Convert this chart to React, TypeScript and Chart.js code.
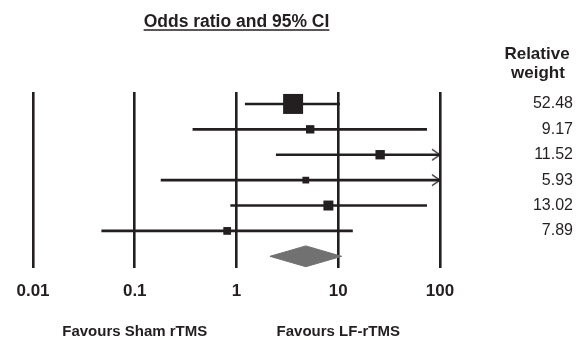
import React, { useEffect, useRef } from "react";
import { Chart, registerables } from "chart.js";

Chart.register(...registerables);

// ---- data ----
const studyRows = [0, 1, 2, 3, 4, 5];
const oddsRatios = [3.6, 5.3, 25.8, 4.8, 8.0, 0.81];
const ciLower = [1.21, 0.37, 2.44, 0.18, 0.87, 0.047];
const ciUpper = [10.4, 74.5, 100, 100, 74.5, 13.9];
const ciTruncated = [false, false, true, true, false, false];
const relativeWeights = [52.48, 9.17, 11.52, 5.93, 13.02, 7.89];
const pooledRow = 6;
const pooledOR = [4.8];
const pooledLower = [2.13];
const pooledUpper = [10.8];
const xTickValues = [0.01, 0.1, 1, 10, 100];
const favourTexts = ["Favours Sham rTMS", "Favours LF-rTMS"];
const favourAt = [0.1, 10];
const titleText = "Odds ratio and 95% CI";
const weightHeader = ["Relative", "weight"];

const INK = "#231f20";
const GREY = "#717171";
const FONT = "'Liberation Sans', Arial, Helvetica, sans-serif";

function makeChevron(): HTMLCanvasElement {
  const c = document.createElement("canvas");
  c.width = 24;
  c.height = 14;
  const g = c.getContext("2d")!;
  g.strokeStyle = INK;
  g.lineWidth = 1.3;
  g.beginPath();
  g.moveTo(4, 1.5);
  g.lineTo(12, 7);
  g.lineTo(4, 12.5);
  g.stroke();
  return c;
}

const textPlugin = {
  id: "forestText",
  afterDraw(chart: any) {
    const { ctx, chartArea, scales } = chart;
    const x = scales.x;
    const y = scales.y;
    ctx.save();
    ctx.fillStyle = INK;
    ctx.strokeStyle = INK;

    // title with underline
    ctx.font = `bold 17.5px ${FONT}`;
    ctx.textAlign = "center";
    ctx.textBaseline = "alphabetic";
    const cx = (chartArea.left + chartArea.right) / 2;
    ctx.fillText(titleText, cx, 27);
    const tw = ctx.measureText(titleText).width;
    ctx.lineWidth = 1.5;
    ctx.beginPath();
    ctx.moveTo(cx - tw / 2, 30);
    ctx.lineTo(cx + tw / 2, 30);
    ctx.stroke();

    // weight header
    ctx.font = `bold 17px ${FONT}`;
    ctx.fillText(weightHeader[0], 537, 59);
    ctx.fillText(weightHeader[1], 538, 78);

    // weights
    ctx.font = `16px ${FONT}`;
    ctx.textAlign = "right";
    ctx.textBaseline = "middle";
    relativeWeights.forEach((w, i) => {
      ctx.fillText(w.toFixed(2), 573, y.getPixelForValue(studyRows[i]));
    });

    // favours labels
    ctx.font = `bold 15px ${FONT}`;
    ctx.textAlign = "center";
    ctx.textBaseline = "alphabetic";
    favourTexts.forEach((t, i) => {
      ctx.fillText(t, x.getPixelForValue(favourAt[i]), 336);
    });
    ctx.restore();
  },
};

export default function App() {
  const ref = useRef<HTMLCanvasElement>(null);

  useEffect(() => {
    if (!ref.current) return;
    const chevron = makeChevron();
    const half = 0.41;

    const ciSets = studyRows.map((r, i) => ({
      type: "scatter",
      label: "ci" + i,
      data: [
        { x: ciLower[i], y: r },
        { x: ciUpper[i], y: r },
      ],
      showLine: true,
      borderColor: INK,
      borderWidth: 2.6,
      pointRadius: 0,
      order: 3,
    }));

    const chart = new Chart(ref.current, {
      type: "scatter",
      data: {
        datasets: [
          {
            label: "OR",
            data: studyRows.map((r, i) => ({ x: oddsRatios[i], y: r })),
            pointStyle: "rect",
            pointRadius: relativeWeights.map((w) => (2.76 * Math.sqrt(w)) / Math.SQRT2),
            backgroundColor: INK,
            borderColor: INK,
            borderWidth: 0,
            order: 1,
          },
          {
            label: "arrows",
            data: studyRows
              .filter((_, i) => ciTruncated[i])
              .map((r) => ({ x: ciUpper[r], y: r })),
            pointStyle: chevron,
            pointRadius: 7,
            order: 2,
          },
          ...ciSets,
          {
            label: "pooled",
            data: [
              { x: pooledLower[0], y: pooledRow },
              { x: pooledOR[0], y: pooledRow - half },
              { x: pooledUpper[0], y: pooledRow },
              { x: pooledOR[0], y: pooledRow + half },
              { x: pooledLower[0], y: pooledRow },
            ],
            showLine: true,
            fill: "shape",
            backgroundColor: GREY,
            borderColor: GREY,
            borderWidth: 1,
            pointRadius: 0,
            tension: 0,
            order: 4,
          },
        ] as any,
      },
      options: {
        animation: false,
        responsive: false,
        devicePixelRatio: 1,
        events: [],
        layout: { padding: { left: 33, right: 139, top: 92, bottom: 23.6 } },
        plugins: { legend: { display: false }, tooltip: { enabled: false }, title: { display: false } },
        scales: {
          x: {
            type: "logarithmic",
            min: 0.01,
            max: 100,
            z: 1,
            afterBuildTicks: (scale: any) => {
              scale.ticks = xTickValues.map((v) => ({ value: v, major: true }));
            },
            grid: { color: INK, lineWidth: 2.6, drawTicks: false },
            border: { display: false },
            ticks: {
              color: INK,
              padding: 13,
              autoSkip: false,
              maxRotation: 0,
              font: { family: FONT, size: 17, weight: "bold" },
              callback: (v: any) => String(v),
            },
          },
          y: {
            type: "linear",
            reverse: true,
            min: -0.47,
            max: 6.46,
            display: false,
          },
        },
      } as any,
      plugins: [textPlugin],
    });
    return () => chart.destroy();
  }, []);

  return (
    <div style={{ position: "fixed", left: 0, top: 0, width: 579, height: 338, background: "#fff" }}>
      <canvas ref={ref} width={579} height={338} style={{ display: "block" }} />
    </div>
  );
}
